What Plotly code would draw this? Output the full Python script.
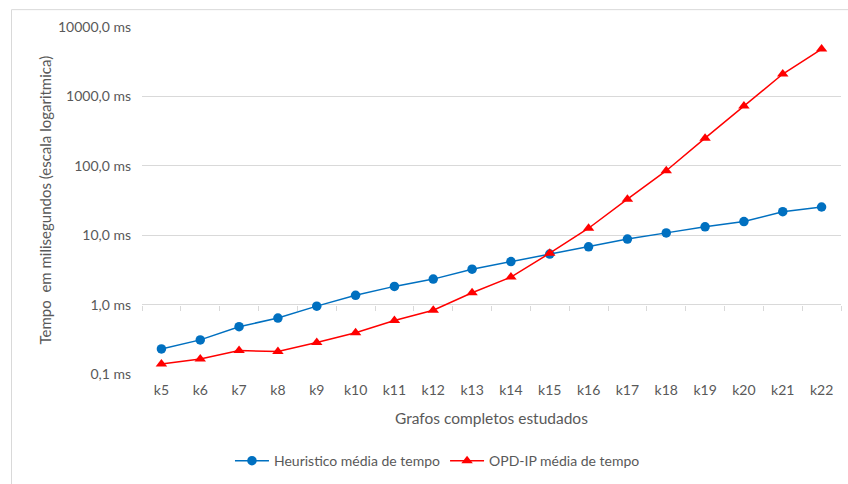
import plotly.graph_objects as go

# Complete graphs studied
grafos = ["k5", "k6", "k7", "k8", "k9", "k10", "k11", "k12", "k13",
          "k14", "k15", "k16", "k17", "k18", "k19", "k20", "k21", "k22"]

# Mean run time in milliseconds
heuristico_ms = [0.23, 0.31, 0.48, 0.64, 0.95, 1.36, 1.83, 2.33, 3.24,
                 4.17, 5.35, 6.8, 8.8, 10.8, 13.2, 15.7, 21.8, 25.5]
opd_ip_ms = [0.139, 0.164, 0.218, 0.211, 0.284, 0.394, 0.59, 0.83, 1.48,
             2.49, 5.5, 12.6, 33.0, 85.0, 250.0, 730.0, 2100.0, 4800.0]

# Y-axis ticks (log scale)
y_tickvals = [0.1, 1, 10, 100, 1000, 10000]
y_ticktext = ["0,1 ms", "1,0 ms", "10,0 ms", "100,0 ms", "1000,0 ms", "10000,0 ms"]

FONT = "Lato, 'Open Sans', sans-serif"
GRAY_TEXT = "#595959"
GRID = "#d9d9d9"
BLUE = "#0070C0"
RED = "#FF0000"

fig = go.Figure()

fig.add_trace(go.Scatter(
    x=grafos, y=heuristico_ms, mode="lines+markers",
    name="Heuristico média de tempo",
    line=dict(color=BLUE, width=1.5),
    marker=dict(symbol="circle", size=9.5, color=BLUE),
))
fig.add_trace(go.Scatter(
    x=grafos, y=opd_ip_ms, mode="lines+markers",
    name="OPD-IP média de tempo",
    line=dict(color=RED, width=1.5),
    marker=dict(symbol="triangle-up", size=10, color=RED),
))

# Invisible trace bound to the secondary x axis that draws the
# category tick marks where the horizontal axis crosses 1,0 ms
fig.add_trace(go.Scatter(
    x=list(range(len(grafos))), y=heuristico_ms, xaxis="x2",
    mode="markers", marker=dict(opacity=0), showlegend=False,
    hoverinfo="skip",
))

n = len(grafos)
fig.update_layout(
    width=848, height=484,
    margin=dict(l=142, r=7, t=27, b=107),
    paper_bgcolor="white", plot_bgcolor="white",
    font=dict(family=FONT, size=14, color=GRAY_TEXT),
    showlegend=True,
    legend=dict(
        orientation="h", x=0.4227, xanchor="center", y=-0.251, yanchor="middle",
        font=dict(size=14, color=GRAY_TEXT), itemwidth=34,
        traceorder="normal",
    ),
    xaxis=dict(
        type="category", range=[-0.5, n - 0.5],
        showgrid=False, zeroline=False,
        showline=False, ticks="",
        tickfont=dict(size=14, color=GRAY_TEXT),
        ticklabelstandoff=6,
    ),
    xaxis2=dict(
        overlaying="x", anchor="free", position=0.2, side="bottom",
        range=[-0.5, n - 0.5],
        tickvals=[i - 0.5 for i in range(n + 1)],
        ticks="outside", ticklen=5, tickcolor=GRID, tickwidth=1,
        showticklabels=False, showgrid=False, zeroline=False, showline=False,
    ),
    yaxis=dict(
        type="log", range=[-1, 4],
        tickvals=y_tickvals, ticktext=y_ticktext,
        showgrid=True, gridcolor=GRID, gridwidth=1,
        zeroline=False, showline=False, ticks="",
        tickfont=dict(size=14, color=GRAY_TEXT),
        ticklabelstandoff=10,
    ),
    annotations=[
        dict(text="Tempo  em milisegundos (escala logaritmica)",
             xref="paper", yref="paper", x=-98 / 699, y=0.5,
             xanchor="center", yanchor="middle", textangle=-90,
             showarrow=False, font=dict(size=15, color=GRAY_TEXT)),
        dict(text="Grafos completos estudados",
             xref="paper", yref="paper", x=0.5, y=-44 / 350,
             xanchor="center", yanchor="middle",
             showarrow=False, font=dict(size=15.5, color=GRAY_TEXT)),
    ],
    shapes=[
        dict(type="rect", xref="paper", yref="paper",
             x0=(11.5 - 142) / 699, x1=1.2, y0=-0.6, y1=(377 - 9.5) / 350,
             line=dict(color=GRID, width=1), fillcolor="rgba(0,0,0,0)",
             layer="below"),
    ],
)

fig.write_html("out.html")
